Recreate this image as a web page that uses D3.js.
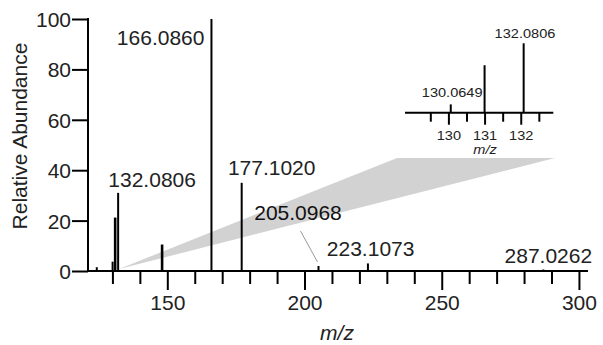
<!DOCTYPE html>
<html>
<head>
<meta charset="utf-8">
<script src="https://cdn.jsdelivr.net/npm/d3@7"></script>
<style>
  html, body { margin: 0; padding: 0; background: #fff; }
  svg { display: block; font-family: "Liberation Sans", Arial, Helvetica, sans-serif; }
</style>
</head>
<body>
<svg id="chart" width="603" height="345"></svg>
<script>
// ---- data ----
const peakMz        = [124.3, 130.0649, 131.0, 132.0806, 148.1, 166.0860, 177.1020, 205.0968, 223.1073, 287.0262];
const peakIntensity = [1.5,   3.7,      21.2,  31,       10.5,  100,      35,       2,        3,        0.6];
const labelledMain  = ["132.0806", "166.0860", "177.1020", "205.0968", "223.1073", "287.0262"];
const labelledInset = ["130.0649", "132.0806"];
const xMajorTicks   = [150, 200, 250, 300];
const xMinorTicks   = [130, 140, 160, 170, 180, 190, 210, 220, 230, 240, 260, 270, 280, 290];
const yTicks        = [0, 20, 40, 60, 80, 100];
const insetMajor    = [130, 131, 132];
const insetMinor    = [129.5, 130.5, 131.5, 132.5];
const xTitle = "m/z";
const yTitle = "Relative Abundance";

// ---- layout ----
const svg = d3.select("#chart");
const x = d3.scaleLinear().domain([121.1, 303.3]).range([88, 588]);
const y = d3.scaleLinear().domain([0, 100]).range([271, 19]);
const xi = d3.scaleLinear().domain([128.8, 132.9]).range([405, 553.3]);
const yi = d3.scaleLinear().domain([0, 31]).range([112.7, 43.3]);
const textColor = "#222";

const peaks = peakMz.map((m, i) => ({ mz: m, h: peakIntensity[i], label: m.toFixed(4) }));

// ---- zoom wedge (behind everything) ----
const apexX = x(132.4), apexY = y(0.8);
const wedgeTop = 158;
svg.append("polygon")
  .attr("points", [[apexX, apexY], [397, wedgeTop], [555, wedgeTop]].map(p => p.join(",")).join(" "))
  .attr("fill", "#d2d2d2");

// ---- main axes ----
const gx = svg.append("g").attr("transform", `translate(0,${y(0)})`);
gx.append("g").call(d3.axisBottom(x).tickValues(xMinorTicks).tickSize(13).tickFormat("").tickSizeOuter(0))
  .call(g => g.select(".domain").remove());
gx.append("g").call(d3.axisBottom(x).tickValues(xMajorTicks).tickSize(19).tickPadding(5).tickSizeOuter(0))
  .call(g => g.select(".domain").remove())
  .call(g => g.selectAll("text").attr("font-size", 21).attr("fill", textColor).attr("font-family", null));
gx.selectAll("line").attr("stroke", "#000").attr("stroke-width", 2);
gx.append("line").attr("x1", x.range()[0] - 1).attr("x2", x.range()[1]).attr("stroke", "#000").attr("stroke-width", 2);

const gy = svg.append("g").attr("transform", `translate(${x.range()[0]},0)`);
gy.call(d3.axisLeft(y).tickValues(yTicks).tickSize(16).tickPadding(1).tickSizeOuter(0))
  .call(g => g.select(".domain").remove())
  .call(g => g.selectAll("text").attr("font-size", 21).attr("fill", textColor).attr("font-family", null).attr("dy", "0.36em"));
gy.selectAll("line").attr("stroke", "#000").attr("stroke-width", 2);
gy.append("line").attr("y1", y(100) - 1).attr("y2", y(0) + 1).attr("stroke", "#000").attr("stroke-width", 2);

// axis titles
svg.append("text").attr("x", 337).attr("y", 340).attr("text-anchor", "middle")
  .attr("font-size", 21).attr("font-style", "italic").attr("fill", textColor).text(xTitle);
svg.append("text").attr("transform", "translate(27,136) rotate(-90)").attr("text-anchor", "middle")
  .attr("font-size", 21).attr("fill", textColor).text(yTitle);

// ---- main peaks ----
svg.append("g").selectAll("line").data(peaks).join("line")
  .attr("x1", d => x(d.mz)).attr("x2", d => x(d.mz))
  .attr("y1", y(0)).attr("y2", d => y(d.h))
  .attr("stroke", "#000").attr("stroke-width", d => (d.mz > 130.5 && d.mz < 131.5) || (d.mz > 147 && d.mz < 149) ? 2.6 : 2);

// label placement (pixel offsets from peak position / baseline)
const mainLabelPos = {
  "132.0806": { dx: 34, y: 186.7, anchor: "middle" },
  "166.0860": { dx: -7, y: 45, anchor: "end" },
  "177.1020": { dx: 30, y: 175, anchor: "middle" },
  "205.0968": { dx: -20.5, y: 220, anchor: "middle" },
  "223.1073": { dx: 2.7, y: 256, anchor: "middle" },
  "287.0262": { dx: 5, y: 263.3, anchor: "middle" }
};
const mainLab = peaks.filter(p => labelledMain.includes(p.label));
svg.append("g").selectAll("text").data(mainLab).join("text")
  .attr("x", d => x(d.mz) + mainLabelPos[d.label].dx)
  .attr("y", d => mainLabelPos[d.label].y)
  .attr("text-anchor", d => mainLabelPos[d.label].anchor)
  .attr("font-size", 21).attr("fill", d => d.label === "205.0968" ? "#111" : textColor)
  .text(d => d.label);

// leader line for 205.0968
const p205 = peaks.find(p => p.label === "205.0968");
svg.append("line")
  .attr("x1", x(p205.mz) - 18).attr("y1", 231)
  .attr("x2", x(p205.mz) - 1).attr("y2", y(p205.h) - 4)
  .attr("stroke", "#999").attr("stroke-width", 1);

// ---- inset ----
const inset = svg.append("g");
const sx = 1.12;
const fsI = 13;
const gi = inset.append("g").attr("transform", `translate(0,${yi(0)})`);
gi.append("g").call(d3.axisBottom(xi).tickValues(insetMinor).tickSize(9).tickFormat("").tickSizeOuter(0))
  .call(g => g.select(".domain").remove());
gi.append("g").call(d3.axisBottom(xi).tickValues(insetMajor).tickFormat(d3.format("d")).tickSize(12).tickPadding(6).tickSizeOuter(0))
  .call(g => g.select(".domain").remove())
  .call(g => g.selectAll("text").attr("font-size", fsI).attr("fill", textColor).attr("font-family", null)
    .attr("transform", `scale(${sx},1)`));
gi.selectAll("line").attr("stroke", "#000").attr("stroke-width", 2);
gi.append("line").attr("x1", xi.range()[0]).attr("x2", xi.range()[1]).attr("stroke", "#000").attr("stroke-width", 2);

const insetPeaks = peaks.filter(p => p.mz >= xi.domain()[0] && p.mz <= xi.domain()[1]);
inset.append("g").selectAll("line").data(insetPeaks).join("line")
  .attr("x1", d => xi(d.mz)).attr("x2", d => xi(d.mz))
  .attr("y1", yi(0)).attr("y2", d => yi(d.h))
  .attr("stroke", "#000").attr("stroke-width", 2);

const insetLabelPos = {
  "130.0649": { dx: 1.4, y: 96.7 },
  "132.0806": { dx: 1.3, y: 38.3 }
};
inset.append("g").selectAll("text").data(insetPeaks.filter(p => labelledInset.includes(p.label))).join("text")
  .attr("transform", d => `translate(${xi(d.mz) + insetLabelPos[d.label].dx},${insetLabelPos[d.label].y}) scale(${sx},1)`)
  .attr("text-anchor", "middle").attr("font-size", fsI).attr("fill", textColor)
  .text(d => d.label);

inset.append("text").attr("transform", `translate(485,154) scale(${sx},1)`)
  .attr("text-anchor", "middle").attr("font-size", fsI).attr("font-style", "italic").attr("fill", textColor)
  .text(xTitle);
</script>
</body>
</html>
